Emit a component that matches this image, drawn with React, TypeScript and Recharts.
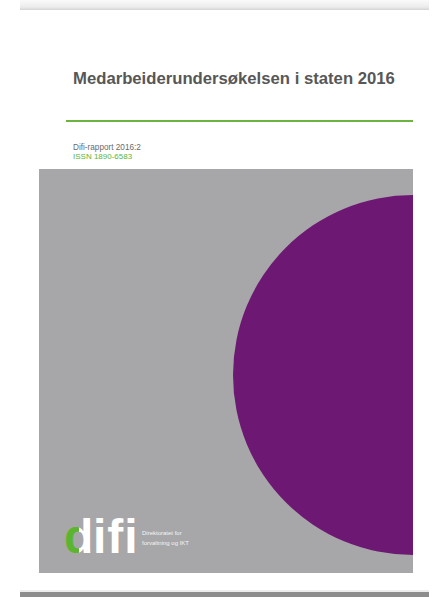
import React from "react";
import { PieChart, Pie, Cell, Customized } from "recharts";

// Cover content
const coverTitle = "Medarbeiderundersøkelsen i staten 2016";
const reportLines = ["Difi-rapport 2016:2", "ISSN 1890-6583"];
const logoFirst = "d";
const logoRest = "ifi";
const logoTagline = ["Direktoratet for", "forvaltning og IKT"];

// The single purple half-disc drawn as a pie slice
const slices = [{ name: "Difi", value: 1 }];
const sliceColors = ["#6d1872"];

const W = 438;
const H = 597;
const FONT = "'Liberation Sans', Arial, sans-serif";

const Decorations = () => (
  <g>
    <text x={73} y={84} fontFamily={FONT} fontWeight={700} fontSize={16.7} fill="#575757">
      {coverTitle}
    </text>
    <line x1={66} x2={413} y1={121} y2={121} stroke="#6db43f" strokeWidth={2.2} />
    <text x={73} y={150} fontFamily={FONT} fontSize={8.2} fill="#6a6a6a">
      {reportLines[0]}
    </text>
    <text x={73} y={158.5} fontFamily={FONT} fontSize={8} fill="#5db531">
      {reportLines[1]}
    </text>
    <defs>
      <linearGradient id="dGrad" x1="0" x2="1" y1="0" y2="0">
        <stop offset="0" stopColor="#5cb531" />
        <stop offset="0.5" stopColor="#5cb531" />
        <stop offset="0.5" stopColor="#ffffff" />
        <stop offset="1" stopColor="#ffffff" />
      </linearGradient>
    </defs>
    <text x={64} y={553} fontFamily={FONT} fontWeight={700} fontSize={48} fill="url(#dGrad)">
      {logoFirst}
    </text>
    <text x={93} y={553} fontFamily={FONT} fontWeight={700} fontSize={48} fill="#ffffff" letterSpacing={1}>
      {logoRest}
    </text>
    <text x={142} y={535} fontFamily={FONT} fontSize={6} fill="#f4f4f4">
      {logoTagline[0]}
    </text>
    <text x={142} y={545} fontFamily={FONT} fontSize={6} fill="#f4f4f4">
      {logoTagline[1]}
    </text>
  </g>
);

export default function App() {
  return (
    <div style={{ position: "absolute", left: 0, top: 0, width: W, height: H, background: "#ffffff", overflow: "hidden" }}>
      {/* top page edge */}
      <div style={{ position: "absolute", left: 20, top: 0, width: 409, height: 10, background: "linear-gradient(#fafafa, #ececec 70%, #d4d4d4)" }} />
      {/* grey cover panel */}
      <div style={{ position: "absolute", left: 39, top: 169, width: 374, height: 404, background: "#a7a7a9" }} />
      {/* bottom page edge */}
      <div style={{ position: "absolute", left: 20, top: 590, width: 409, height: 2, background: "#ececec" }} />
      <div style={{ position: "absolute", left: 20, top: 592, width: 409, height: 5, background: "#8d8d8d" }} />
      <div style={{ position: "absolute", left: 0, top: 0 }}>
        <PieChart width={W} height={H} margin={{ top: 0, right: 0, bottom: 0, left: 0 }}>
          <Pie
            data={slices}
            dataKey="value"
            nameKey="name"
            cx={413}
            cy={375}
            innerRadius={0}
            outerRadius={180}
            startAngle={90}
            endAngle={270}
            stroke="none"
            isAnimationActive={false}
          >
            {slices.map((s, i) => (
              <Cell key={s.name} fill={sliceColors[i]} />
            ))}
          </Pie>
          <Customized component={Decorations} />
        </PieChart>
      </div>
    </div>
  );
}
